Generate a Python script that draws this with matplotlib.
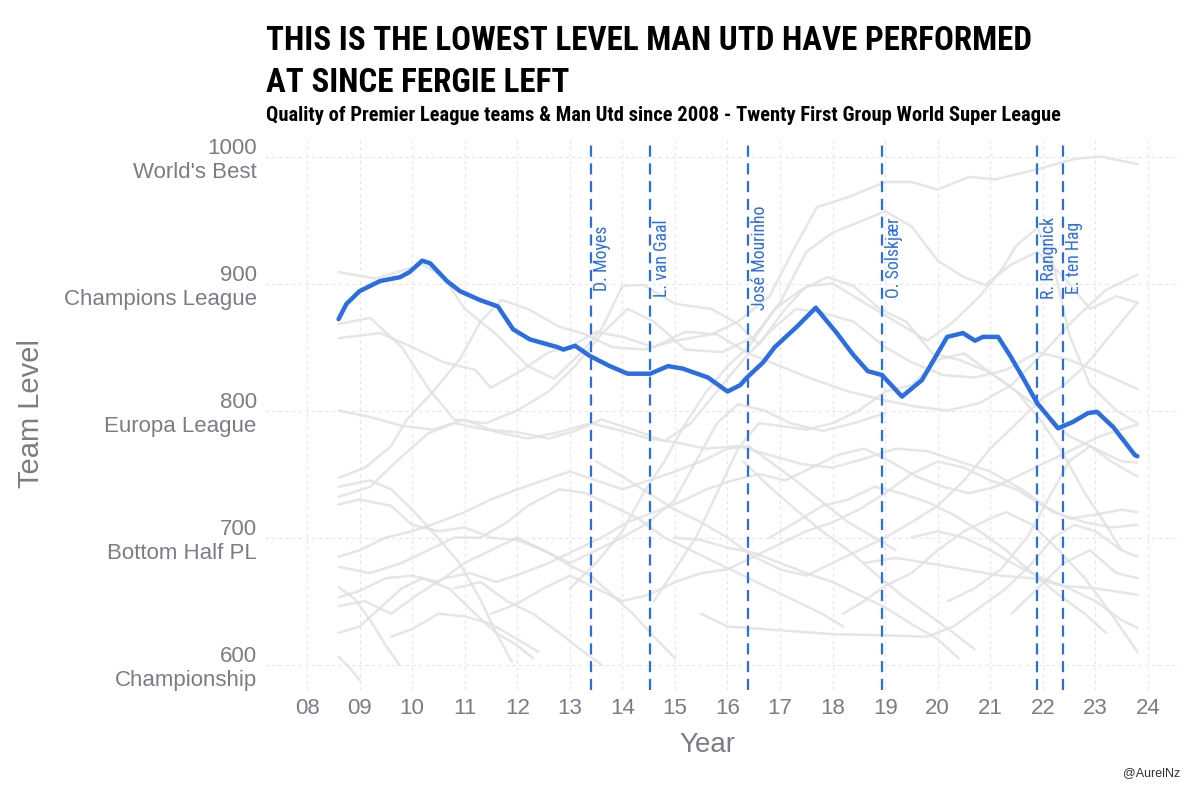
import matplotlib
matplotlib.use('Agg')
import matplotlib.pyplot as plt

# Man Utd team level
utd_years = [2008.60, 2008.75, 2009.00, 2009.39, 2009.77, 2009.95, 2010.19, 2010.34, 2010.66, 2010.91,
             2011.29, 2011.63, 2011.92, 2012.24, 2012.76, 2012.88, 2013.10, 2013.38, 2013.76, 2014.10,
             2014.53, 2014.87, 2015.15, 2015.63, 2016.00, 2016.24, 2016.37, 2016.68, 2016.90, 2017.32,
             2017.68, 2018.08, 2018.39, 2018.67, 2018.94, 2019.32, 2019.70, 2020.18, 2020.48, 2020.71,
             2020.86, 2021.15, 2021.38, 2021.62, 2021.89, 2022.29, 2022.57, 2022.86, 2023.03, 2023.34,
             2023.75, 2023.80]
utd_level = [872, 884, 894, 902, 905, 909, 918, 916, 902, 894,
             887, 882, 864, 856, 850, 848, 851, 843, 835, 829,
             829, 835, 833, 826, 815, 820, 826, 838, 850, 866,
             881, 861, 844, 831, 828, 811, 824, 858, 861, 855,
             858, 858, 843, 826, 806, 786, 791, 798, 799, 787,
             765, 764]

# managers
managers = ['D. Moyes', 'L. van Gaal', 'José Mourinho', 'O. Solskjær', 'R. Rangnick', 'E. ten Hag']
manager_start = [2013.40, 2014.53, 2016.39, 2018.94, 2021.89, 2022.38]

y_ticks = [600, 700, 800, 900, 1000]
y_labels = ['600\nChampionship', '700\nBottom Half PL', '800\nEuropa League',
            '900\nChampions League', "1000\nWorld's Best"]
x_ticks = list(range(2008, 2025))
x_labels = ['08', '09', '10', '11', '12', '13', '14', '15', '16', '17', '18', '19', '20', '21', '22', '23', '24']

# other Premier League teams (rough waypoints)
grey_01 = [(2008.6, 909), (2009.3, 904), (2010.2, 915), (2010.6, 905), (2011.0, 880), (2011.6, 860), (2012.2, 835),
           (2012.7, 825), (2013.2, 845), (2013.6, 864), (2014.0, 898), (2014.4, 899), (2015.0, 884), (2015.7, 880),
           (2016.2, 868), (2016.6, 852), (2017.1, 880), (2017.5, 898), (2018.0, 900), (2018.6, 885), (2019.2, 870),
           (2019.8, 855), (2020.3, 870), (2020.8, 890), (2021.2, 910), (2021.5, 930), (2021.9, 944), (2022.2, 915),
           (2022.5, 860), (2022.9, 820), (2023.4, 800), (2023.8, 790)]
grey_02 = [(2008.6, 868), (2009.2, 873), (2009.8, 850), (2010.3, 818), (2010.8, 793), (2011.4, 790), (2012.0, 800),
           (2012.6, 815), (2013.1, 835), (2013.6, 860), (2014.1, 880), (2014.6, 870), (2015.2, 848), (2015.9, 846),
           (2016.5, 858), (2017.0, 885), (2017.5, 925), (2018.0, 940), (2018.6, 950), (2019.0, 957), (2019.5, 945),
           (2020.0, 918), (2020.5, 905), (2020.9, 899), (2021.4, 915), (2021.9, 925), (2022.4, 905), (2022.9, 880),
           (2023.4, 890), (2023.8, 885)]
grey_03 = [(2008.6, 857), (2009.4, 861), (2010.0, 850), (2010.6, 838), (2011.2, 832), (2011.5, 818), (2012.1, 832),
           (2012.6, 846), (2013.0, 850), (2013.5, 862), (2014.0, 858), (2014.6, 850), (2015.2, 862), (2015.8, 860),
           (2016.4, 845), (2017.0, 835), (2017.6, 825), (2018.3, 815), (2019.0, 808), (2019.6, 803), (2020.2, 800),
           (2020.8, 806), (2021.4, 820), (2022.0, 845), (2022.6, 872), (2023.2, 895), (2023.8, 907)]
grey_04 = [(2008.6, 747), (2009.1, 755), (2009.6, 772), (2009.9, 793), (2010.4, 815), (2010.9, 840), (2011.3, 870),
           (2011.7, 887), (2012.2, 880), (2012.8, 866), (2013.3, 860), (2013.8, 850), (2014.4, 848), (2015.0, 855),
           (2015.7, 860), (2016.2, 870), (2016.8, 890), (2017.3, 930), (2017.7, 960), (2018.3, 968), (2019.0, 980),
           (2019.5, 980), (2020.0, 974), (2020.6, 984), (2021.1, 982), (2021.9, 990), (2022.6, 998), (2023.1, 1000),
           (2023.8, 994)]
grey_05 = [(2008.6, 732), (2009.2, 740), (2009.7, 760), (2010.3, 782), (2010.8, 790), (2011.4, 785), (2012.0, 783),
           (2012.6, 778), (2013.1, 784), (2013.6, 793), (2014.2, 785), (2014.8, 776), (2015.3, 790), (2015.8, 815),
           (2016.3, 840), (2016.8, 862), (2017.3, 880), (2017.8, 877), (2018.4, 870), (2019.0, 850), (2019.5, 838),
           (2020.1, 828), (2020.7, 826), (2021.3, 832), (2021.9, 846), (2022.5, 840), (2023.1, 830), (2023.8, 817)]
grey_06 = [(2008.6, 726), (2009.0, 730), (2009.6, 725), (2010.0, 710), (2010.5, 705), (2011.0, 708), (2011.5, 700),
           (2012.0, 698), (2012.5, 690), (2013.0, 678), (2013.4, 670), (2013.8, 655), (2014.2, 640), (2014.6, 622),
           (2015.0, 605)]
grey_07 = [(2008.6, 740), (2009.2, 745), (2009.6, 738), (2010.0, 722), (2010.4, 704), (2010.9, 680), (2011.3, 651),
           (2011.6, 625), (2011.9, 602)]
grey_08 = [(2008.6, 661), (2008.9, 652), (2009.2, 635), (2009.5, 615), (2009.75, 600)]
grey_09 = [(2008.6, 685), (2009.0, 690), (2009.5, 700), (2010.0, 705), (2010.5, 712), (2011.0, 720), (2011.5, 730),
           (2012.0, 738), (2012.5, 745), (2013.0, 752), (2013.5, 745), (2014.0, 738), (2014.5, 745), (2015.0, 752),
           (2015.5, 760), (2016.0, 770), (2016.4, 772), (2016.8, 760), (2017.3, 745), (2017.8, 728), (2018.3, 712),
           (2018.8, 700), (2019.2, 690)]
grey_10 = [(2008.6, 677), (2009.2, 672), (2009.8, 680), (2010.3, 690), (2010.8, 700), (2011.3, 700), (2011.8, 712),
           (2012.2, 725), (2012.8, 738), (2013.3, 735), (2013.8, 725), (2014.3, 715), (2014.8, 700), (2015.3, 690),
           (2015.8, 680), (2016.3, 670), (2016.8, 660), (2017.3, 650), (2017.8, 640), (2018.2, 630)]
grey_11 = [(2008.6, 653), (2009.0, 658), (2009.5, 668), (2010.0, 670), (2010.5, 665), (2011.0, 680), (2011.5, 690),
           (2012.0, 700), (2012.5, 690), (2013.0, 680), (2013.5, 690), (2014.0, 700), (2014.5, 712), (2015.0, 730),
           (2015.4, 760), (2015.8, 790), (2016.2, 805), (2016.7, 800), (2017.2, 790), (2017.8, 784), (2018.4, 790),
           (2019.0, 798)]
grey_12 = [(2013.0, 660), (2013.5, 680), (2014.0, 705), (2014.4, 735), (2014.8, 760), (2015.2, 790), (2015.6, 815),
           (2016.0, 835), (2016.4, 850), (2016.9, 880), (2017.4, 895), (2017.9, 905), (2018.4, 898), (2018.9, 880),
           (2019.4, 870), (2019.9, 845), (2020.4, 840), (2021.0, 830), (2021.5, 815), (2022.0, 800), (2022.5, 780),
           (2023.0, 770), (2023.5, 760), (2023.8, 759)]
grey_13 = [(2014.6, 650), (2015.0, 675), (2015.4, 700), (2015.8, 735), (2016.2, 770), (2016.6, 790), (2017.0, 788),
           (2017.5, 785), (2018.0, 790), (2018.5, 800), (2019.0, 815), (2019.5, 820), (2020.0, 840), (2020.5, 845),
           (2021.0, 830), (2021.5, 815), (2022.0, 790), (2022.4, 765), (2022.8, 735), (2023.2, 710), (2023.5, 690)]
grey_14 = [(2015.5, 640), (2016.0, 630), (2017.0, 627), (2018.0, 624), (2019.0, 623), (2019.8, 622), (2020.3, 630),
           (2020.8, 645), (2021.3, 660), (2021.8, 680), (2022.2, 700), (2022.6, 710), (2023.0, 705), (2023.5, 690),
           (2023.8, 685)]
grey_15 = [(2018.6, 680), (2019.2, 684), (2019.8, 680), (2020.5, 675), (2021.2, 670), (2021.8, 668), (2022.4, 662),
           (2023.0, 660), (2023.8, 655)]
grey_16 = [(2008.6, 646), (2009.1, 650), (2009.6, 640), (2010.1, 655), (2010.6, 668), (2011.1, 672), (2011.6, 665),
           (2012.1, 672), (2012.6, 680), (2013.1, 690), (2013.6, 700), (2014.1, 712), (2014.6, 720), (2015.1, 728),
           (2015.6, 738), (2016.1, 745), (2016.6, 750), (2017.1, 745), (2017.6, 755), (2018.1, 765), (2018.6, 770),
           (2019.1, 760), (2019.6, 748), (2020.1, 740), (2020.6, 735), (2021.1, 740), (2021.6, 750), (2022.1, 760),
           (2022.6, 770), (2023.1, 780), (2023.8, 789)]
grey_17 = [(2008.6, 625), (2009.0, 630), (2009.4, 645), (2009.8, 660), (2010.2, 668), (2010.7, 660), (2011.2, 640),
           (2011.6, 625), (2012.0, 615), (2012.3, 605)]
grey_18 = [(2008.6, 606), (2008.8, 598), (2009.0, 588)]
grey_19 = [(2009.6, 622), (2010.0, 628), (2010.5, 640), (2011.0, 638), (2011.5, 632), (2012.0, 620), (2012.4, 610)]
grey_20 = [(2010.8, 660), (2011.3, 665), (2011.8, 650), (2012.3, 640), (2012.8, 625), (2013.2, 612), (2013.6, 600)]
grey_21 = [(2011.5, 640), (2012.0, 648), (2012.5, 660), (2013.0, 670), (2013.5, 660), (2014.0, 650), (2014.5, 655),
           (2015.0, 665), (2015.5, 672), (2016.0, 675), (2016.5, 685), (2017.0, 695), (2017.5, 705), (2018.0, 712),
           (2018.5, 722), (2019.0, 735), (2019.5, 750), (2020.0, 760), (2020.5, 755), (2021.0, 745), (2021.5, 738),
           (2022.0, 725), (2022.5, 715), (2023.0, 718), (2023.5, 722), (2023.8, 720)]
grey_22 = [(2013.5, 760), (2014.0, 748), (2014.5, 735), (2015.0, 722), (2015.5, 712), (2016.0, 700), (2016.5, 685),
           (2017.0, 675), (2017.5, 670), (2018.0, 680), (2018.5, 690), (2019.0, 700), (2019.5, 712), (2020.0, 725),
           (2020.5, 745), (2021.0, 770), (2021.5, 790), (2022.0, 810), (2022.4, 820), (2022.8, 835), (2023.3, 860),
           (2023.8, 885)]
grey_23 = [(2008.6, 800), (2009.2, 795), (2009.8, 788), (2010.4, 785), (2011.0, 793), (2011.6, 783), (2012.2, 778),
           (2012.8, 783), (2013.4, 790), (2013.9, 785), (2014.5, 778), (2015.0, 775), (2015.6, 770), (2016.2, 772),
           (2016.8, 765), (2017.4, 758), (2018.0, 755), (2018.6, 762), (2019.2, 770), (2019.8, 768), (2020.4, 760),
           (2021.0, 752), (2021.6, 738), (2022.2, 720), (2022.8, 712), (2023.3, 708), (2023.8, 710)]
grey_24 = [(2015.0, 700), (2015.5, 698), (2016.0, 692), (2016.5, 688), (2017.0, 680), (2017.5, 672), (2018.0, 665),
           (2018.5, 655), (2019.0, 645), (2019.5, 632), (2020.0, 620), (2020.4, 605)]
grey_25 = [(2019.5, 700), (2020.0, 705), (2020.5, 700), (2021.0, 690), (2021.5, 678), (2022.0, 668), (2022.5, 660),
           (2023.0, 650), (2023.5, 635), (2023.8, 629)]
grey_26 = [(2018.2, 640), (2018.6, 650), (2019.0, 662), (2019.5, 672), (2020.0, 690), (2020.5, 705), (2021.0, 715),
           (2021.3, 720), (2021.8, 710), (2022.3, 690), (2022.8, 668), (2023.3, 640), (2023.8, 610)]
grey_27 = [(2016.8, 700), (2017.3, 712), (2017.8, 725), (2018.3, 730), (2018.8, 740), (2019.3, 735), (2019.8, 728),
           (2020.3, 718), (2020.8, 705), (2021.3, 690), (2021.8, 672), (2022.3, 655), (2022.8, 640), (2023.2, 625)]
grey_28 = [(2020.2, 650), (2020.7, 660), (2021.2, 675), (2021.7, 700), (2022.1, 730), (2022.5, 760), (2022.9, 772),
           (2023.3, 760), (2023.8, 748)]
grey_29 = [(2021.4, 640), (2021.9, 660), (2022.4, 680), (2022.9, 690), (2023.4, 672), (2023.8, 668)]
grey_30 = [(2016.3, 760), (2016.8, 740), (2017.3, 722), (2017.8, 705), (2018.3, 690), (2018.8, 672), (2019.3, 655),
           (2019.8, 640), (2020.3, 625), (2020.7, 612)]
grey_lines = [grey_01, grey_02, grey_03, grey_04, grey_05, grey_06, grey_07, grey_08, grey_09, grey_10,
              grey_11, grey_12, grey_13, grey_14, grey_15, grey_16, grey_17, grey_18, grey_19, grey_20,
              grey_21, grey_22, grey_23, grey_24, grey_25, grey_26, grey_27, grey_28, grey_29, grey_30]

BLUE = '#2b6de3'
TICK_GREY = '#7c7c86'
narrow = ['Roboto Condensed', 'Open Sans Condensed', 'DejaVu Sans']
sans = ['Liberation Sans', 'DejaVu Sans']

fig = plt.figure(figsize=(12, 8), dpi=100)
ax = fig.add_axes([265 / 1200, 110 / 800, 915 / 1200, 550 / 800])

for line in grey_lines:
    xs = [p[0] for p in line]
    ys = [p[1] for p in line]
    ax.plot(xs, ys, color='#e2e2e2', lw=1.8, alpha=0.85, solid_capstyle='round', zorder=2)

labels = []
for name, start in zip(managers, manager_start):
    ax.vlines(start, 580, 1009, colors=BLUE, linestyles=(0, (5, 3)), lw=1.6, zorder=3)
    labels.append(ax.text(start + 0.22, 920, name, rotation=90, ha='center', va='center', color=BLUE,
                          fontsize=13, family=narrow, stretch='condensed', zorder=5))

ax.plot(utd_years, utd_level, color=BLUE, lw=3.2, solid_capstyle='round', solid_joinstyle='round', zorder=4)

ax.set_xlim(2007.2, 2024.61)
ax.set_ylim(580, 1013)
ax.set_xticks(x_ticks)
ax.set_xticklabels(x_labels)
ax.set_yticks(y_ticks)
ax.set_yticklabels(y_labels, linespacing=1.2)
ax.tick_params(length=0, labelsize=16, labelcolor=TICK_GREY, pad=6)
for lab in ax.get_xticklabels() + ax.get_yticklabels():
    lab.set_family(sans)
ax.grid(True, color='#e6e6e6', lw=0.8, ls=(0, (3, 3)), zorder=0)
for s in ax.spines.values():
    s.set_visible(False)

fig.text(31 / 1200, 1 - 413 / 800, 'Team Level', rotation=90, ha='center', va='center',
         fontsize=21, color=TICK_GREY, family=sans)
fig.text(707 / 1200, 1 - 745 / 800, 'Year', ha='center', va='center',
         fontsize=20, color=TICK_GREY, family=sans)

t1 = fig.text(266 / 1200, 1 - 50 / 800, 'THIS IS THE LOWEST LEVEL MAN UTD HAVE PERFORMED',
              ha='left', va='baseline', fontsize=30, weight='bold', family=narrow, stretch='condensed',
              color='black')
t2 = fig.text(266 / 1200, 1 - 92 / 800, 'AT SINCE FERGIE LEFT',
              ha='left', va='baseline', fontsize=30, weight='bold', family=narrow, stretch='condensed',
              color='black')
sub = fig.text(266 / 1200, 1 - 121 / 800,
               'Quality of Premier League teams & Man Utd since 2008 - Twenty First Group World Super League',
               ha='left', va='baseline', fontsize=13, weight='bold', family=narrow, stretch='condensed',
               color='black')
fig.text(1180 / 1200, 1 - 773 / 800, '@AurelNz', ha='right', va='center', fontsize=9,
         color='#333333', family=sans)

# scale the condensed texts so their extent matches the original
renderer = fig.canvas.get_renderer()
w1 = t1.get_window_extent(renderer).width
size1 = 30 * 764 / w1
t1.set_fontsize(size1)
t2.set_fontsize(size1)
ws = sub.get_window_extent(renderer).width
sub.set_fontsize(13 * 792 / ws)
hm = labels[2].get_window_extent(renderer).height
for lab in labels:
    lab.set_fontsize(13 * 104 / hm)

fig.savefig('out.png', dpi=100, facecolor='white')
